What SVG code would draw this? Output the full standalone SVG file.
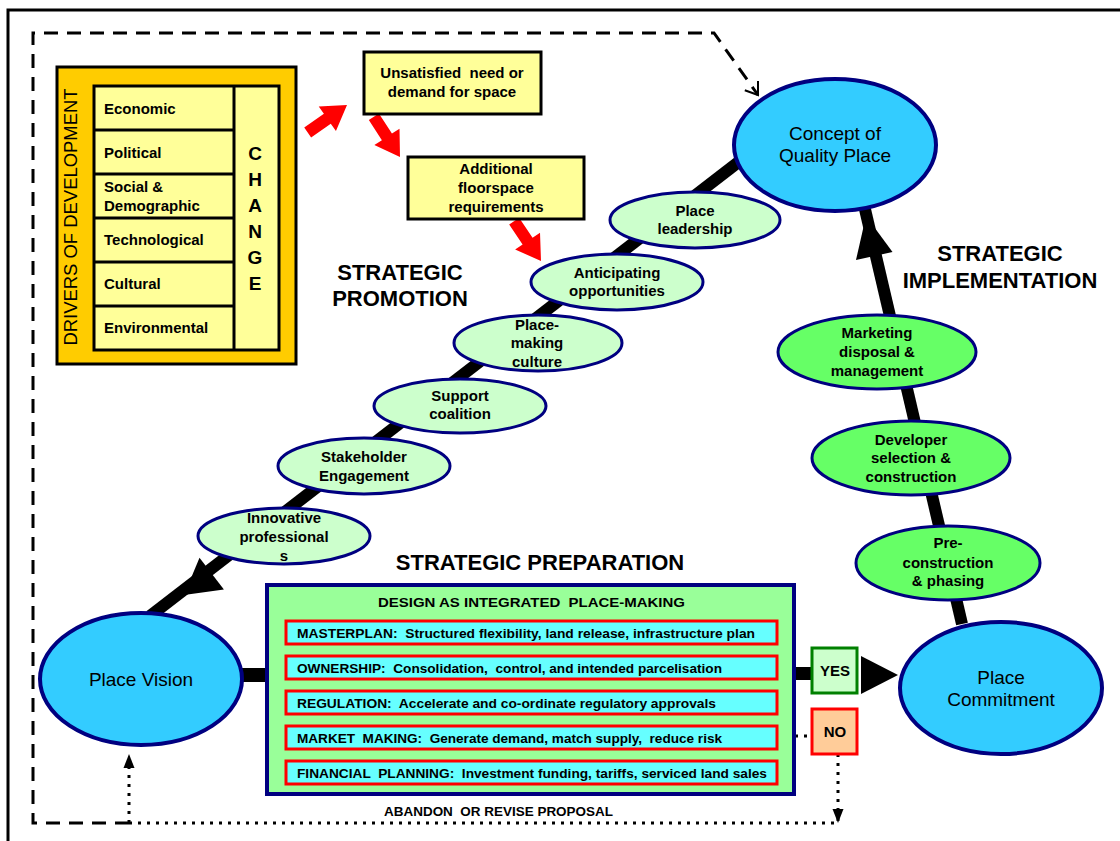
<svg xmlns="http://www.w3.org/2000/svg" width="1120" height="841" viewBox="0 0 1120 841">
<style>
text{font-family:"Liberation Sans",Arial,sans-serif;fill:#000}
.lbl{font-size:15px;font-weight:bold;text-anchor:middle}
.itm{font-size:15px;font-weight:bold}
.big{font-size:19px;text-anchor:middle}
.head{font-size:22px;font-weight:bold;text-anchor:middle}
.row{font-size:13.5px;font-weight:bold;white-space:pre}
.pre{white-space:pre}
.blue{fill:#33CCFF;stroke:#000080;stroke-width:4}
.lg{fill:#CCFFCC;stroke:#000080;stroke-width:3}
.dg{fill:#66FF66;stroke:#000080;stroke-width:3}
.yel{fill:#FFFF99;stroke:#000;stroke-width:3}
.cy{fill:#66FFFF;stroke:#FF0000;stroke-width:3}
.dash{fill:none;stroke:#000;stroke-width:3;stroke-dasharray:14 9}
.dot{fill:none;stroke:#000;stroke-width:3;stroke-dasharray:3 6}
</style>
<defs>
<path id="redArrow" d="M0,0 L-24,-15 L-24,-6 L-48,-6 L-48,6 L-24,6 L-24,15 Z" fill="#FF0000"/>
</defs>
<rect width="1120" height="841" fill="#fff"/>
<!-- outer frame -->
<path d="M8,841 V10 H1120" fill="none" stroke="#000" stroke-width="3"/>

<g id="connectors">
  <path class="dash" d="M129,823 H33 V33 H714 L758,95"/>
  <path d="M758,81 L758,95 L744.8,90.3" fill="none" stroke="#000" stroke-width="2"/>
  <path class="dot" d="M129,823 H838 V812"/>
  <path class="dot" d="M129,823 V768"/>
  <polygon points="129,754 123.5,768 134.5,768" fill="#000"/>
  <path class="dot" d="M838,754 V812"/>
  <polygon points="838,823 832.5,809 843.5,809" fill="#000"/>
  <path class="dot" d="M795,736 H812"/>
  <line x1="745" y1="157" x2="150" y2="616" stroke="#000" stroke-width="12"/>
  <polygon points="184,595 223.9,589.4 199.5,557.8" fill="#000"/>
  <line x1="962" y1="624" x2="864" y2="205" stroke="#000" stroke-width="12"/>
  <polygon points="866,216 892.5,252 856,260" fill="#000"/>
  <rect x="230" y="668" width="40" height="14" fill="#000"/>
  <rect x="793" y="667" width="21" height="13" fill="#000"/>
  <polygon points="861,656 861,694 898,675" fill="#000"/>
  <use href="#redArrow" transform="translate(347,105) rotate(-35)"/>
  <use href="#redArrow" transform="translate(400,157) rotate(57)"/>
  <use href="#redArrow" transform="translate(541,261) rotate(56)"/>
</g>

<g id="drivers">
  <rect x="57" y="67" width="239" height="297" fill="#FFCC00" stroke="#000" stroke-width="3"/>
  <rect x="94" y="86" width="185" height="264" class="yel"/>
  <path d="M94,130 H234 M94,174 H234 M94,218 H234 M94,262 H234 M94,306 H234 M234,86 V350" stroke="#000" stroke-width="3" fill="none"/>
  <text x="0" y="0" transform="translate(77,217) rotate(-90)" style="font-size:18px;text-anchor:middle" textLength="257" lengthAdjust="spacingAndGlyphs">DRIVERS OF DEVELOPMENT</text>
  <text class="itm" x="104" y="114">Economic</text>
  <text class="itm" x="104" y="158">Political</text>
  <text class="itm" x="104" y="192">Social &amp;</text>
  <text class="itm" x="104" y="211">Demographic</text>
  <text class="itm" x="104" y="245">Technological</text>
  <text class="itm" x="104" y="289">Cultural</text>
  <text class="itm" x="104" y="333">Environmental</text>
  <g style="font-size:19px;font-weight:bold;text-anchor:middle">
    <text x="255" y="160">C</text>
    <text x="255" y="186">H</text>
    <text x="255" y="212">A</text>
    <text x="255" y="238">N</text>
    <text x="255" y="264">G</text>
    <text x="255" y="290">E</text>
  </g>
</g>

<g id="unsatisfied">
  <rect x="364" y="52" width="177" height="62" class="yel"/>
  <text class="lbl pre" x="452" y="78">Unsatisfied  need or</text>
  <text class="lbl" x="452" y="97">demand for space</text>
</g>
<g id="additional">
  <rect x="408" y="157" width="176" height="62" class="yel"/>
  <text class="lbl" x="496" y="174">Additional</text>
  <text class="lbl" x="496" y="193">floorspace</text>
  <text class="lbl" x="496" y="212">requirements</text>
</g>

<g id="concept">
  <ellipse cx="835" cy="145" rx="101" ry="66" class="blue"/>
  <text class="big" x="835" y="140">Concept of</text>
  <text class="big" x="835" y="162">Quality Place</text>
</g>
<g id="vision">
  <ellipse cx="141" cy="679" rx="101" ry="66" class="blue"/>
  <text class="big" x="141" y="686">Place Vision</text>
</g>
<g id="commitment">
  <ellipse cx="1001" cy="688" rx="101" ry="66" class="blue"/>
  <text class="big" x="1001" y="684">Place</text>
  <text class="big" x="1001" y="706">Commitment</text>
</g>

<g id="leadership">
  <ellipse cx="695" cy="220" rx="85" ry="28" class="lg"/>
  <text class="lbl" x="695" y="216">Place</text>
  <text class="lbl" x="695" y="234">leadership</text>
</g>
<g id="anticipating">
  <ellipse cx="617" cy="282" rx="86" ry="28" class="lg"/>
  <text class="lbl" x="617" y="278">Anticipating</text>
  <text class="lbl" x="617" y="296">opportunities</text>
</g>
<g id="placemaking">
  <ellipse cx="538" cy="343" rx="84" ry="28" class="lg"/>
  <text class="lbl" x="537" y="330">Place-</text>
  <text class="lbl" x="537" y="348">making</text>
  <text class="lbl" x="537" y="367">culture</text>
</g>
<g id="support">
  <ellipse cx="460" cy="406" rx="86" ry="27" class="lg"/>
  <text class="lbl" x="460" y="401">Support</text>
  <text class="lbl" x="460" y="419">coalition</text>
</g>
<g id="stakeholder">
  <ellipse cx="364" cy="466" rx="86" ry="28" class="lg"/>
  <text class="lbl" x="364" y="462">Stakeholder</text>
  <text class="lbl" x="364" y="481">Engagement</text>
</g>
<g id="innovative">
  <ellipse cx="284" cy="536" rx="86" ry="28" class="lg"/>
  <text class="lbl" x="284" y="523">Innovative</text>
  <text class="lbl" x="284" y="542">professional</text>
  <text class="lbl" x="284" y="561">s</text>
</g>

<g id="marketing">
  <ellipse cx="877" cy="352" rx="99" ry="37" class="dg"/>
  <text class="lbl" x="877" y="338">Marketing</text>
  <text class="lbl" x="877" y="357">disposal &amp;</text>
  <text class="lbl" x="877" y="376">management</text>
</g>
<g id="developer">
  <ellipse cx="911" cy="458" rx="99" ry="37" class="dg"/>
  <text class="lbl" x="911" y="445">Developer</text>
  <text class="lbl" x="911" y="463">selection &amp;</text>
  <text class="lbl" x="911" y="482">construction</text>
</g>
<g id="preconstruction">
  <ellipse cx="948" cy="563" rx="92" ry="37" class="dg"/>
  <text class="lbl" x="948" y="548">Pre-</text>
  <text class="lbl" x="948" y="568">construction</text>
  <text class="lbl" x="948" y="586">&amp; phasing</text>
</g>

<g id="headings">
  <text class="head" x="400" y="280">STRATEGIC</text>
  <text class="head" x="400" y="306">PROMOTION</text>
  <text class="head" x="1000" y="261">STRATEGIC</text>
  <text class="head" x="1000" y="288">IMPLEMENTATION</text>
  <text class="head" x="540" y="570">STRATEGIC PREPARATION</text>
  <text class="pre" x="384" y="816" style="font-size:12px;font-weight:bold" textLength="229" lengthAdjust="spacingAndGlyphs">ABANDON  OR REVISE PROPOSAL</text>
</g>

<g id="design">
  <rect x="267" y="585" width="527" height="209" fill="#99FF99" stroke="#000080" stroke-width="4"/>
  <text class="pre" x="378" y="607" style="font-size:13.5px;font-weight:bold" textLength="307" lengthAdjust="spacingAndGlyphs">DESIGN AS INTEGRATED  PLACE-MAKING</text>
  <rect x="286" y="621" width="491" height="23" class="cy"/>
  <rect x="286" y="656" width="491" height="23" class="cy"/>
  <rect x="286" y="691" width="491" height="23" class="cy"/>
  <rect x="286" y="726" width="491" height="23" class="cy"/>
  <rect x="286" y="761" width="491" height="23" class="cy"/>
  <text class="row" x="297" y="638" textLength="458" lengthAdjust="spacingAndGlyphs">MASTERPLAN:  Structured flexibility, land release, infrastructure plan</text>
  <text class="row" x="297" y="673" textLength="425" lengthAdjust="spacingAndGlyphs">OWNERSHIP:  Consolidation,  control, and intended parcelisation</text>
  <text class="row" x="297" y="708" textLength="419" lengthAdjust="spacingAndGlyphs">REGULATION:  Accelerate and co-ordinate regulatory approvals</text>
  <text class="row" x="297" y="743" textLength="425" lengthAdjust="spacingAndGlyphs">MARKET  MAKING:  Generate demand, match supply,  reduce risk</text>
  <text class="row" x="297" y="778" textLength="470" lengthAdjust="spacingAndGlyphs">FINANCIAL  PLANNING:  Investment funding, tariffs, serviced land sales</text>
</g>

<g id="yes">
  <rect x="812" y="648" width="45" height="45" fill="#CCFFCC" stroke="#008000" stroke-width="3"/>
  <text class="lbl" x="835" y="676">YES</text>
</g>
<g id="no">
  <rect x="812" y="709" width="45" height="45" fill="#FFCC99" stroke="#FF0000" stroke-width="3"/>
  <text class="lbl" x="835" y="737">NO</text>
</g>
</svg>
